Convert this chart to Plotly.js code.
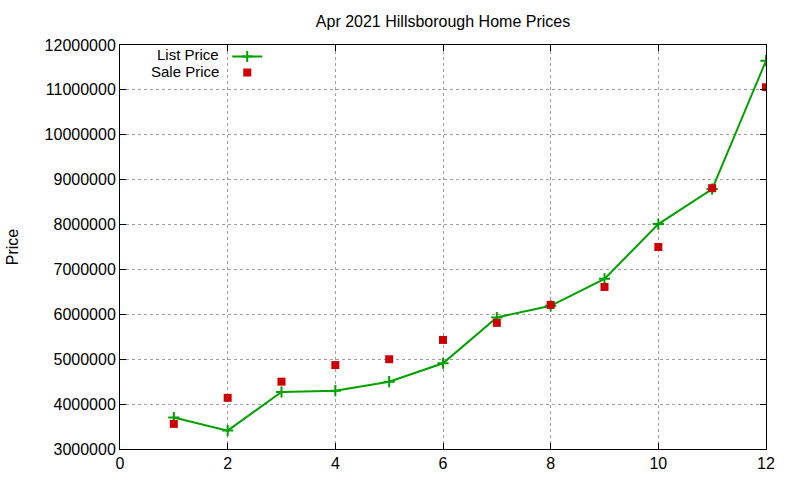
<!DOCTYPE html>
<html>
<head>
<meta charset="utf-8">
<script src="https://cdn.plot.ly/plotly-3.0.1.min.js"></script>
<style>
  body { margin: 0; background: #fff; }
  #chart { width: 800px; height: 480px; }
</style>
</head>
<body>
<div id="chart"></div>
<script>
// months (x) and prices
const months = [1, 2, 3, 4, 5, 6, 7, 8, 9, 10, 11, 12];
const listPrice = [3700000, 3410000, 4270000, 4300000, 4500000, 4910000, 5930000, 6190000, 6790000, 8010000, 8790000, 11650000];
const salePrice = [3560000, 4140000, 4500000, 4870000, 5000000, 5430000, 5810000, 6210000, 6610000, 7500000, 8810000, 11060000];
const seriesNames = ['List Price', 'Sale Price'];

const font = 'Liberation Sans, Arial, sans-serif';
const green = '#00a000';
const red = '#cc0000';

// legend text sits left of the key (gnuplot style), so the names are annotations
// and each trace gets its own little legend just for the key
var listTrace = {
    x: months,
    y: listPrice,
    name: ' ',
    legend: 'legend',
    type: 'scatter',
    mode: 'lines+markers',
    line: { color: green, width: 2 },
    marker: { symbol: 'cross-thin', size: 8, line: { color: green, width: 2 } }
};

var saleTrace = {
    x: months,
    y: salePrice,
    name: ' ',
    legend: 'legend2',
    type: 'scatter',
    mode: 'markers',
    marker: { symbol: 'square', size: 8, color: red }
};

var axisCommon = {
    showline: true,
    mirror: 'ticks',
    linecolor: '#000',
    linewidth: 1,
    ticks: 'inside',
    ticklen: 6,
    tickcolor: '#000',
    showgrid: true,
    gridcolor: '#a0a0a0',
    griddash: 'dot',
    gridwidth: 1,
    zeroline: false,
    tickfont: { family: font, size: 16, color: '#000' }
};

var keyLegend = {
    x: 0.166,
    xanchor: 'left', yanchor: 'top',
    bgcolor: 'rgba(0,0,0,0)',
    font: { family: font, size: 10 }
};

var layout = {
    width: 800,
    height: 480,
    margin: { l: 120, r: 34, t: 45, b: 31 },
    paper_bgcolor: '#fff',
    plot_bgcolor: '#fff',
    font: { family: font, size: 16, color: '#000' },
    title: {
        text: 'Apr 2021 Hillsborough Home Prices',
        font: { family: font, size: 16, color: '#000' },
        x: 0.5, xref: 'paper',
        y: 1 - 21 / 480, yref: 'container', yanchor: 'middle'
    },
    xaxis: Object.assign({}, axisCommon, {
        range: [0, 12],
        dtick: 2,
        tick0: 0
    }),
    yaxis: Object.assign({}, axisCommon, {
        range: [3000000, 12000000],
        dtick: 1000000,
        tickformat: 'd',
        title: { text: 'Price', font: { family: font, size: 16, color: '#000' }, standoff: 22 }
    }),
    showlegend: true,
    legend: Object.assign({}, keyLegend, { y: 1.0074 }),
    legend2: Object.assign({}, keyLegend, { y: 0.968 }),
    annotations: [
        { text: seriesNames[0], xref: 'paper', yref: 'paper', x: 0.157, y: 1 - 9 / 404,
          xanchor: 'right', yanchor: 'middle', showarrow: false, font: { family: font, size: 15 } },
        { text: seriesNames[1], xref: 'paper', yref: 'paper', x: 0.157, y: 1 - 26.5 / 404,
          xanchor: 'right', yanchor: 'middle', showarrow: false, font: { family: font, size: 15 } }
    ]
};

Plotly.newPlot('chart', [listTrace, saleTrace], layout, { displayModeBar: false, staticPlot: true });
</script>
</body>
</html>
